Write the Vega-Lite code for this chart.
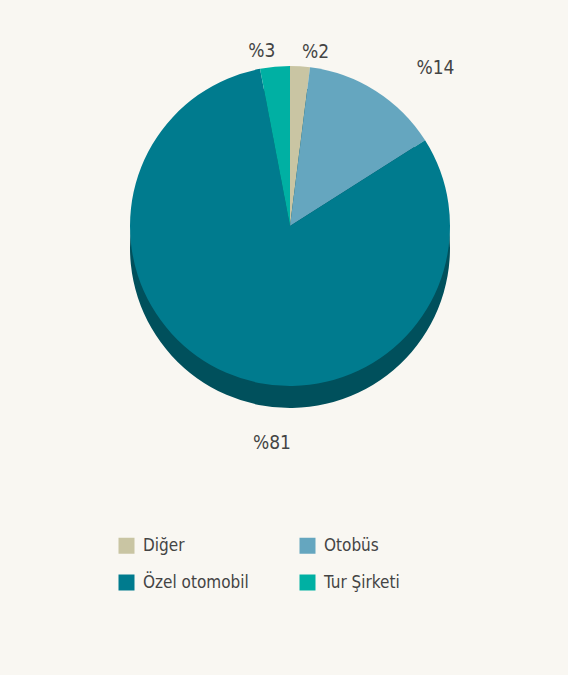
{
  "$schema": "https://vega.github.io/schema/vega-lite/v6.json",
  "width": 566,
  "height": 448,
  "padding": {"left": 7, "top": 2, "right": 0, "bottom": 84},
  "background": "#f9f7f2",
  "config": {
    "view": {"stroke": null},
    "font": "DejaVu Sans Condensed, sans-serif"
  },
  "data": {
    "values": [
      {"tur": "Diğer", "pay": 2, "etiket": "%2", "sira": 1},
      {"tur": "Otobüs", "pay": 14, "etiket": "%14", "sira": 2},
      {"tur": "Özel otomobil", "pay": 81, "etiket": "%81", "sira": 3},
      {"tur": "Tur Şirketi", "pay": 3, "etiket": "%3", "sira": 4}
    ]
  },
  "resolve": {"scale": {"theta": "independent"}},
  "layer": [
    {
      "mark": {"type": "arc", "outerRadius": 160, "yOffset": 22, "color": "#00505c"},
      "encoding": {
        "theta": {"field": "pay", "type": "quantitative", "stack": true},
        "order": {"field": "sira", "type": "quantitative"}
      }
    },
    {
      "mark": {"type": "arc", "outerRadius": 160},
      "encoding": {
        "theta": {"field": "pay", "type": "quantitative", "stack": true},
        "order": {"field": "sira", "type": "quantitative"},
        "color": {
          "field": "tur",
          "type": "nominal",
          "scale": {
            "domain": ["Diğer", "Otobüs", "Özel otomobil", "Tur Şirketi"],
            "range": ["#c9c5a3", "#65a6bf", "#007b8e", "#00b0a3"]
          },
          "legend": {
            "title": null,
            "orient": "none",
            "direction": "horizontal",
            "legendX": 111,
            "legendY": 535,
            "columns": 2,
            "columnPadding": 50,
            "rowPadding": 19,
            "symbolType": "square",
            "symbolSize": 256,
            "symbolStrokeWidth": 0,
            "labelFontSize": 17,
            "labelColor": "#444444",
            "labelOffset": 8
          }
        }
      }
    },
    {
      "mark": {"type": "text", "radius": 176, "align": "left", "dx": 1, "dy": 2, "fontSize": 19, "color": "#444444"},
      "encoding": {
        "theta": {"field": "pay", "type": "quantitative", "stack": true},
        "order": {"field": "sira", "type": "quantitative"},
        "text": {"field": "etiket"},
        "opacity": {"condition": {"test": "datum.sira == 1", "value": 1}, "value": 0}
      }
    },
    {
      "mark": {"type": "text", "radius": 180, "align": "left", "dx": 30, "dy": -6, "fontSize": 19, "color": "#444444"},
      "encoding": {
        "theta": {"field": "pay", "type": "quantitative", "stack": true},
        "order": {"field": "sira", "type": "quantitative"},
        "text": {"field": "etiket"},
        "opacity": {"condition": {"test": "datum.sira == 2", "value": 1}, "value": 0}
      }
    },
    {
      "mark": {"type": "text", "radius": 176, "align": "right", "dx": 2, "fontSize": 19, "color": "#444444"},
      "encoding": {
        "theta": {"field": "pay", "type": "quantitative", "stack": true},
        "order": {"field": "sira", "type": "quantitative"},
        "text": {"field": "etiket"},
        "opacity": {"condition": {"test": "datum.sira == 4", "value": 1}, "value": 0}
      }
    },
    {
      "transform": [{"filter": "datum.pay > 50"}],
      "mark": {"type": "text", "radius": 205, "yOffset": 12, "dx": -18, "fontSize": 19, "color": "#444444"},
      "encoding": {
        "theta": {"field": "pay", "type": "quantitative", "stack": true},
        "text": {"field": "etiket"}
      }
    }
  ]
}
